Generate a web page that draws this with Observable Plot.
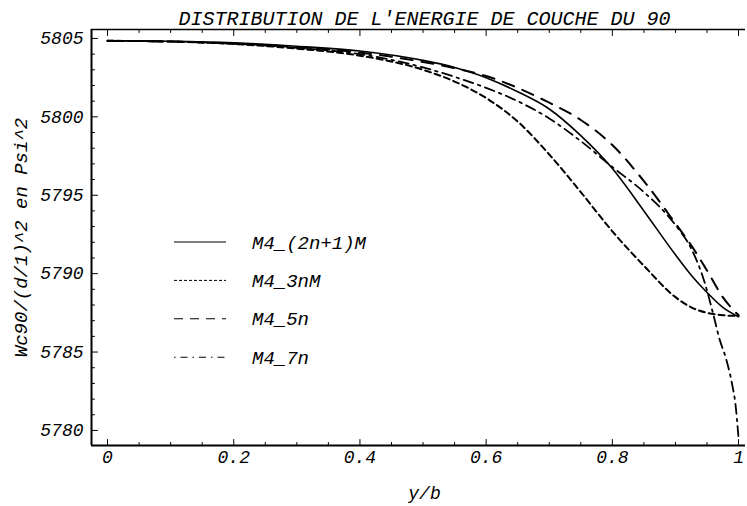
<!DOCTYPE html>
<html><head><meta charset="utf-8">
<script src="https://cdn.jsdelivr.net/npm/d3@7"></script>
<script src="https://cdn.jsdelivr.net/npm/@observablehq/plot@0.6"></script>
<style>body{margin:0;background:#fff}</style>
</head><body><div id="chart"></div>
<script>
// ---- data ----
const title = "DISTRIBUTION DE L'ENERGIE DE COUCHE DU 90";
const xLabel = "y/b";
const yLabel = "Wc90/(d/1)^2 en Psi^2";
const seriesNames = ["M4_(2n+1)M", "M4_3nM", "M4_5n", "M4_7n"];

const xGrid = [0, 0.1, 0.2, 0.3, 0.4, 0.5, 0.55, 0.6, 0.65, 0.7, 0.75, 0.8, 0.85, 0.9, 0.925, 0.95, 0.975, 1.0];
const w2n1M = [5804.85, 5804.82, 5804.72, 5804.5, 5804.2, 5803.6, 5803.15, 5802.5, 5801.6, 5800.5, 5798.8, 5796.7, 5794.0, 5791.2, 5789.9, 5788.8, 5787.85, 5787.25];
const w3nM  = [5804.85, 5804.8, 5804.65, 5804.35, 5803.9, 5803.0, 5802.25, 5801.2, 5799.7, 5797.6, 5795.2, 5792.7, 5790.5, 5788.5, 5787.85, 5787.5, 5787.35, 5787.3];
const w5n   = [5804.85, 5804.8, 5804.68, 5804.45, 5804.1, 5803.5, 5803.1, 5802.6, 5801.85, 5800.9, 5799.8, 5798.2, 5795.9, 5793.2, 5791.8, 5790.2, 5788.5, 5787.35];
const x7n   = [0, 0.1, 0.2, 0.3, 0.4, 0.5, 0.55, 0.6, 0.65, 0.7, 0.75, 0.8, 0.85, 0.9, 0.925, 0.945, 0.96, 0.97, 0.98, 0.99, 0.995, 1.0];
const w7n   = [5804.85, 5804.8, 5804.66, 5804.4, 5804.0, 5803.15, 5802.55, 5801.85, 5801.0, 5799.9, 5798.45, 5796.8, 5795.2, 5793.1, 5791.6, 5789.6, 5787.4, 5785.8, 5784.6, 5782.9, 5781.7, 5779.5];

const xTicks = [0, 0.2, 0.4, 0.6, 0.8, 1];
const xMinorTicks = [0.05, 0.1, 0.15, 0.25, 0.3, 0.35, 0.45, 0.5, 0.55, 0.65, 0.7, 0.75, 0.85, 0.9, 0.95];
const yTicks = [5780, 5785, 5790, 5795, 5800, 5805];
const yMinorTicks = [5781, 5782, 5783, 5784, 5786, 5787, 5788, 5789, 5791, 5792, 5793, 5794, 5796, 5797, 5798, 5799, 5801, 5802, 5803, 5804];

// ---- layout / style ----
const W = 747, H = 506;
const mL = 91, mR = 2, mT = 29, mB = 61;
const xDomain = [-0.0254, 1.011];
const yDomain = [5779.04, 5805.57];
const FONT = "Liberation Mono, Courier New, Courier, monospace";
const lineStyles = [
  {dash: null, width: 1.6, legendDash: null, legendWidth: 1.2},
  {dash: "6,4", width: 2, legendDash: "3,2", legendWidth: 1},
  {dash: "12,9", width: 2, legendDash: "9,7", legendWidth: 1.1},
  {dash: "10,5,2.5,5", width: 1.8, legendDash: "1.5,5,7,5", legendWidth: 1.1}
];

const seriesData = [
  xGrid.map((x, i) => ({x, y: w2n1M[i]})),
  xGrid.map((x, i) => ({x, y: w3nM[i]})),
  xGrid.map((x, i) => ({x, y: w5n[i]})),
  x7n.map((x, i) => ({x, y: w7n[i]}))
];

const tickShape = {draw(ctx, l) { ctx.moveTo(0, 0); ctx.lineTo(0, -l); }};
const tickV = (data, opts) => Plot.vector(data, {shape: tickShape, anchor: "start", stroke: "#000", strokeWidth: 1, ...opts});

const chart = Plot.plot({
  width: W, height: H,
  marginLeft: mL, marginRight: mR, marginTop: mT, marginBottom: mB,
  x: {domain: xDomain},
  y: {domain: yDomain},
  style: {fontFamily: FONT, fontStyle: "italic", fontSize: "18px", color: "#000", background: "#fff"},
  marks: [
    Plot.ruleX([xDomain[0]], {stroke: "#000", strokeWidth: 2}),
    Plot.ruleY([yDomain[0]], {stroke: "#000", strokeWidth: 2.2}),
    Plot.ruleY([yDomain[1]], {stroke: "#000", strokeWidth: 1.6}),
    tickV(yTicks, {x: () => xDomain[0], y: d => d, rotate: 90, length: 6}),
    tickV(yMinorTicks, {x: () => xDomain[0], y: d => d, rotate: 90, length: 3}),
    tickV(xTicks, {x: d => d, y: () => yDomain[0], rotate: 0, length: 6}),
    tickV(xMinorTicks, {x: d => d, y: () => yDomain[0], rotate: 0, length: 3}),
    tickV(xTicks, {x: d => d, y: () => yDomain[1], rotate: 180, length: 6}),
    tickV(xMinorTicks, {x: d => d, y: () => yDomain[1], rotate: 180, length: 3}),
    Plot.axisX({ticks: xTicks, tickSize: 0, tickPadding: 5, tickFormat: d => String(d), label: null, fontSize: 18}),
    Plot.axisY({ticks: yTicks, tickSize: 0, tickPadding: 8, tickFormat: d => String(d), label: null, fontSize: 18}),
    ...seriesData.map((data, i) => Plot.line(data, {
      x: "x", y: "y", curve: "monotone-x", stroke: "#000",
      strokeWidth: lineStyles[i].width,
      strokeDasharray: lineStyles[i].dash || undefined
    })),
    Plot.text([title], {frameAnchor: "top", lineAnchor: "middle", textAnchor: "middle", dx: 6, dy: -11, fontSize: 20, text: d => d}),
    Plot.text([xLabel], {frameAnchor: "bottom", lineAnchor: "middle", textAnchor: "middle", dx: 6, dy: 48, fontSize: 18, text: d => d}),
    Plot.text([yLabel], {frameAnchor: "left", lineAnchor: "middle", textAnchor: "middle", dx: -71, rotate: -90, fontSize: 19, text: d => d})
  ]
});

// ---- legend ----
const svg = d3.select(chart);
const lg = svg.append("g").attr("text-anchor", "start");
const legendX0 = 174, legendX1 = 226, legendTextX = 252, legendY0 = 242, legendStep = 38.4;
seriesNames.forEach((name, i) => {
  const yy = legendY0 + i * legendStep;
  const st = lineStyles[i];
  const ln = lg.append("line").attr("x1", legendX0).attr("x2", legendX1).attr("y1", yy).attr("y2", yy)
    .attr("stroke", "#000").attr("stroke-width", st.legendWidth);
  if (st.legendDash) ln.attr("stroke-dasharray", st.legendDash);
  lg.append("text").attr("x", legendTextX).attr("y", yy).attr("dy", "0.35em")
    .attr("text-anchor", "start")
    .attr("font-family", FONT).attr("font-style", "italic").attr("font-size", 19)
    .attr("fill", "#000").text(name);
});

document.getElementById("chart").appendChild(chart);
</script>
</body></html>
